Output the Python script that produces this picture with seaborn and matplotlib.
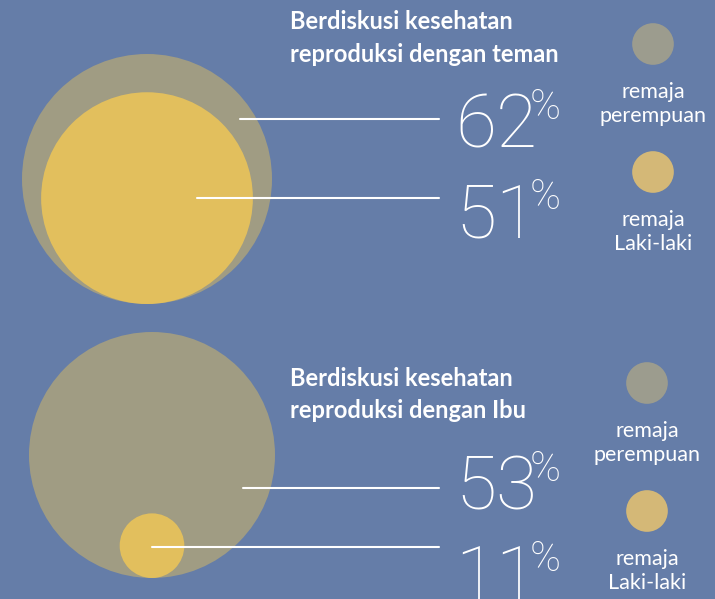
import numpy as np
import pandas as pd
import matplotlib.pyplot as plt
import seaborn as sns
from matplotlib.patches import Circle

# data
topics = [["Berdiskusi kesehatan", "reproduksi dengan teman"],
          ["Berdiskusi kesehatan", "reproduksi dengan Ibu"]]
perempuan = [62, 53]
laki = [51, 11]
legend_labels = ["remaja\nperempuan", "remaja\nLaki-laki"]

bg = "#657da8"
grey = "#a09c83"
yellow = "#e2bf5d"
leg_grey = "#9c9c8e"
leg_yellow = "#d4b877"

sns.set_theme(style="white")
plt.rcParams['font.family'] = ['Lato', 'DejaVu Sans']

fig = plt.figure(figsize=(7.15, 5.99), dpi=100, facecolor=bg)
ax = fig.add_axes([0, 0, 1, 1])
ax.set_facecolor(bg)

# layout of the two panels (pixels)
circ_x = [147, 152]
circ_base = [304, 578]
big_r = [125, 123]
title_y = [[29, 62], [386, 418]]
num_y = [[147, 237], [509, 599]]
line_y = [[119, 198], [488, 547]]
leg_x = [653, 647]
leg_dot_y = [[44, 172], [383, 511]]

for i in range(2):
    vals = [perempuan[i], laki[i]]
    vmax = max(vals)
    radii = [big_r[i] * (v / vmax) ** 0.85 for v in vals]
    for v, r, c in zip(vals, radii, [grey, yellow]):
        ax.add_patch(Circle((circ_x[i], circ_base[i] - r), r, color=c, lw=0, zorder=2))

    # leader lines: from inside the circles to the numbers
    starts = [circ_x[i] + radii[0] * 0.74, circ_x[i] + radii[1] * 0.47 if i == 0 else circ_x[i]]
    for y, x0 in zip(line_y[i], starts):
        ax.plot([x0, 439], [y, y], color='white', lw=1.5, zorder=3)

    # title
    for line, y in zip(topics[i], title_y[i]):
        ax.text(290, y, line, color='white', fontsize=17, fontweight='bold',
                va='baseline', ha='left', zorder=4)

    # big numbers
    for v, y in zip(vals, num_y[i]):
        t = ax.text(455, y, str(v), color='white', fontsize=54, fontweight='light',
                    family=['Roboto', 'DejaVu Sans'], va='baseline', ha='left', zorder=4)
        ax.annotate('%', xy=(1, 1), xycoords=t, xytext=(-5, 3), textcoords='offset points',
                    color='white', fontsize=30, fontweight='light', family=['Roboto', 'DejaVu Sans'],
                    va='top', ha='left')

    # legend
    leg = pd.DataFrame({'x': [leg_x[i]] * 2, 'y': leg_dot_y[i], 'grp': legend_labels})
    sns.scatterplot(data=leg, x='x', y='y', hue='grp', palette=[leg_grey, leg_yellow],
                    s=900, linewidth=0, legend=False, ax=ax, zorder=4)
    for lab, y in zip(legend_labels, leg_dot_y[i]):
        ax.text(leg_x[i], y + 60, lab, color='white', fontsize=15.5, va='center', ha='center',
                linespacing=1.2, zorder=4)

ax.set_xlim(0, 715)
ax.set_ylim(599, 0)
ax.axis('off')
fig.savefig('out.png', dpi=100, facecolor=bg)
